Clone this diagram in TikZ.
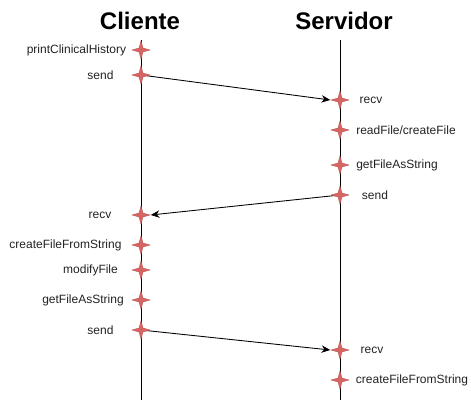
\documentclass[tikz,border=0pt]{standalone}
\usepackage{fontspec}
\setmainfont{Liberation Sans}
\usetikzlibrary{shapes.geometric,arrows.meta,backgrounds}
\definecolor{starfill}{HTML}{D96464}
\definecolor{stardraw}{HTML}{B85450}
\definecolor{labeltext}{HTML}{222222}
\tikzset{
  evstar/.style={star, star points=4, star point ratio=3.2, minimum size=13.5pt, inner sep=0pt, fill=starfill, draw=stardraw, line width=0.3pt},
  lbl/.style={font=\fontsize{9}{10}\selectfont, text=labeltext, inner sep=0pt},
  ttl/.style={font=\bfseries\fontsize{18}{20}\selectfont, inner sep=0pt},
  life/.style={line width=0.75pt},
  msg/.style={line width=0.65pt, -{Stealth[length=6.5pt,width=5.5pt,inset=2pt]}}
}
\begin{document}
\begin{tikzpicture}[x=0.75pt,y=-0.75pt]
\useasboundingbox (0,0) rectangle (471,402);
% titles
\node[ttl] (tc) at (140,21) {Cliente};
\node[ttl] (ts) at (344,21) {Servidor};
% lifelines
\coordinate (c0) at (141,40);
\coordinate (c1) at (141,400);
\coordinate (s0) at (340,40);
\coordinate (s1) at (340,400);
\draw[life] (c0) -- (c1);
\draw[life] (s0) -- (s1);
% client events
\node[evstar] (c_print) at (141,50) {};
\node[evstar] (c_send1) at (141,75) {};
\node[evstar] (c_recv) at (141,215) {};
\node[evstar] (c_create) at (141,245) {};
\node[evstar] (c_mod) at (141,270) {};
\node[evstar] (c_get) at (141,300) {};
\node[evstar] (c_send2) at (141,330) {};
% server events
\node[evstar] (s_recv1) at (340,100) {};
\node[evstar] (s_read) at (340,130) {};
\node[evstar] (s_get) at (340,165) {};
\node[evstar] (s_send) at (340,195) {};
\node[evstar] (s_recv2) at (340,350) {};
\node[evstar] (s_create) at (340,380) {};
% client labels
\node[lbl] (l1) at (76.5,50) {printClinicalHistory};
\node[lbl] (l2) at (100.5,75) {send};
\node[lbl] (l3) at (100,215) {recv};
\node[lbl] (l4) at (65.5,245) {createFileFromString};
\node[lbl] (l5) at (90.5,270) {modifyFile};
\node[lbl] (l6) at (83,300) {getFileAsString};
\node[lbl] (l7) at (100.5,330) {send};
% server labels
\node[lbl] (r1) at (371,100) {recv};
\node[lbl] (r2) at (406,130) {readFile/createFile};
\node[lbl] (r3) at (397,165) {getFileAsString};
\node[lbl] (r4) at (375,195) {send};
\node[lbl] (r5) at (372,350) {recv};
\node[lbl] (r6) at (412,380) {createFileFromString};
% messages
\begin{scope}[on background layer]
\draw[msg] (c_send1.center) -- (s_recv1.west);
\draw[msg] (s_send.center) -- (c_recv.east);
\draw[msg] (c_send2.center) -- (s_recv2.west);
\end{scope}
\end{tikzpicture}
\end{document}
